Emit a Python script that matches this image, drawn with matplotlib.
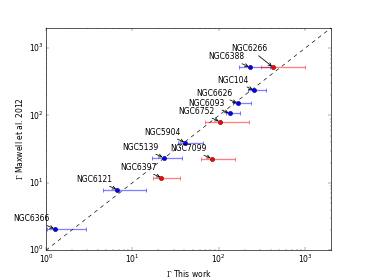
import numpy as np
import matplotlib
matplotlib.use('Agg')
import matplotlib.pyplot as plt

plt.style.use('classic')

# cluster names and values
names = ['NGC6366', 'NGC6121', 'NGC6397', 'NGC5139', 'NGC7099', 'NGC5904',
         'NGC6752', 'NGC6093', 'NGC6626', 'NGC104', 'NGC6388', 'NGC6266']
gam_this = [1.27, 6.7, 21.7, 23.0, 83.0, 41.0, 103.0, 134.0, 166.0, 255.0, 229.0, 424.0]
gam_lo = [1.03, 4.6, 17.1, 17.0, 62.0, 34.0, 70.0, 121.0, 145.0, 217.0, 171.0, 309.0]
gam_hi = [2.9, 14.5, 36.0, 38.0, 153.0, 65.0, 224.0, 175.0, 235.0, 352.0, 392.0, 1000.0]
gam_max = [2.06, 7.9, 11.9, 23.6, 22.8, 39.5, 81.0, 107.0, 151.0, 236.0, 520.0, 520.0]
col = ['b', 'b', 'r', 'b', 'r', 'b', 'r', 'b', 'b', 'b', 'b', 'r']

x = np.array(gam_this)
y = np.array(gam_max)
xerr = np.array([x - np.array(gam_lo), np.array(gam_hi) - x])

fig = plt.figure(figsize=(368/46., 278/46.), dpi=46, facecolor='white')
ax = fig.add_subplot(111)
ax.set_facecolor('white')

lim = [1, 2000]
ax.plot(lim, lim, 'k--')

for i in range(len(names)):
    ax.errorbar(x[i], y[i], xerr=xerr[:, i:i+1], fmt='none', ecolor=col[i],
                alpha=0.5, capsize=3, elinewidth=2, capthick=1.5)
    ax.plot(x[i], y[i], 'o', color=col[i], ms=7, mec='k', mew=0.5)
    dy = 22 if names[i] == 'NGC6266' else 9
    ax.annotate(names[i], xy=(x[i], y[i]), xytext=(-8, dy),
                textcoords='offset points', ha='right', va='bottom',
                fontsize=12,
                arrowprops=dict(arrowstyle='->', lw=1.2,
                                connectionstyle='arc3,rad=0'))

ax.set_xscale('log')
ax.set_yscale('log')
ax.set_xlim(lim)
ax.set_ylim(lim)
ax.set_xlabel(r'$\Gamma$ This work')
ax.set_ylabel(r'$\Gamma$ Maxwell et al. 2012')

fig.savefig('out.png', dpi=46, facecolor='white')
